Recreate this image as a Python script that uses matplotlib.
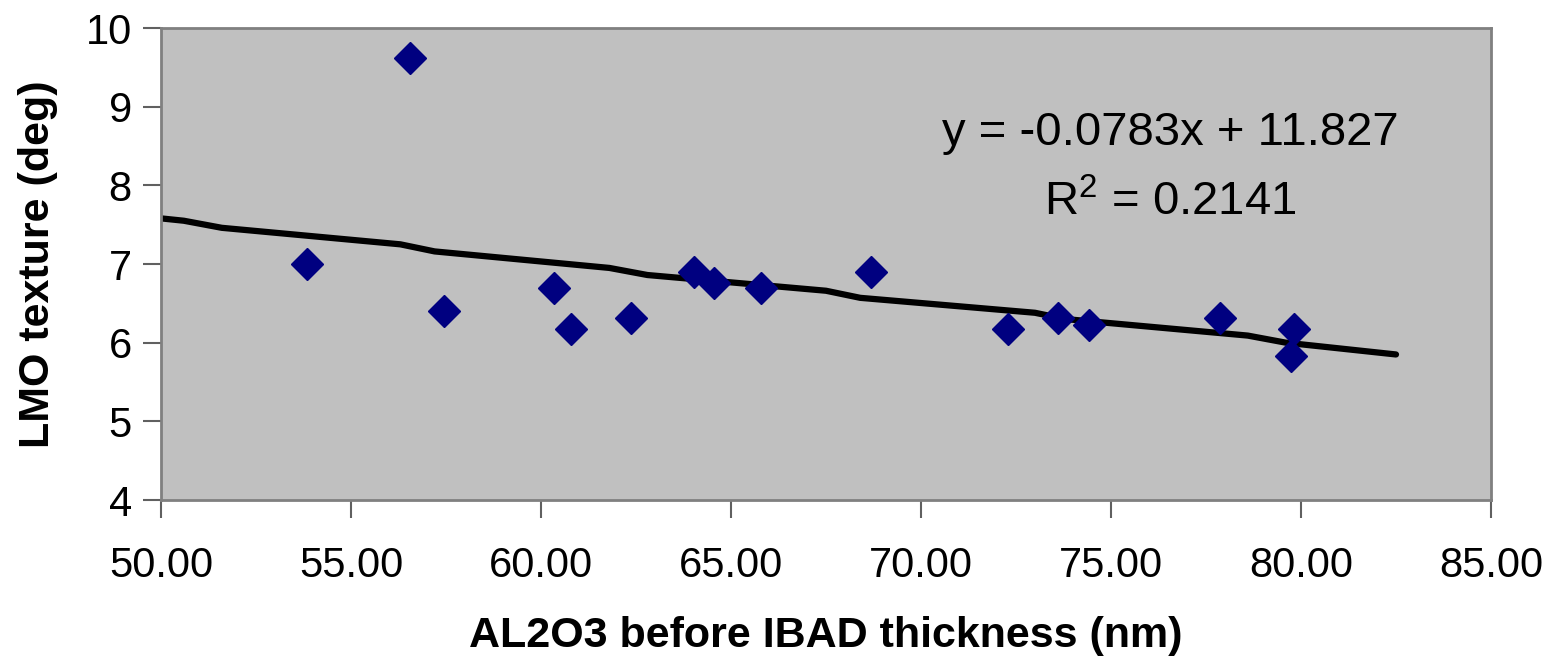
import matplotlib.pyplot as plt
import numpy as np

# AL2O3 thickness (nm) vs LMO texture (deg)
thickness = [53.84, 56.55, 57.45, 60.34, 60.79, 62.37, 64.03, 64.55, 65.79,
             68.68, 72.29, 73.60, 74.42, 77.87, 79.82, 79.74]
texture = [7.00, 9.62, 6.40, 6.69, 6.18, 6.31, 6.90, 6.76, 6.70,
           6.90, 6.18, 6.31, 6.22, 6.31, 6.18, 5.83]

# trend line as rendered (vertices)
trend_x = [50.0, 50.6, 51.6, 56.3, 57.2, 61.8, 62.8, 67.5, 68.4, 73.0, 73.8, 78.6, 79.6, 82.5]
trend_y = [7.58, 7.55, 7.46, 7.25, 7.16, 6.95, 6.86, 6.66, 6.57, 6.38, 6.30, 6.09, 6.00, 5.85]

eq_text = 'y = -0.0783x + 11.827'
r2_text = 'R$^2$ = 0.2141'

x_ticks = np.arange(50, 86, 5)
y_ticks = np.arange(4, 11, 1)

plt.rcParams['font.family'] = ['Liberation Sans', 'DejaVu Sans']
plt.rcParams['mathtext.fontset'] = 'custom'
plt.rcParams['mathtext.rm'] = 'Liberation Sans'

fig = plt.figure(figsize=(15.51, 6.64), dpi=100)
ax = fig.add_axes([161 / 1551, 1 - 500 / 664, (1491 - 161) / 1551, (500 - 28) / 664])
ax.set_facecolor('#C0C0C0')

ax.plot(trend_x, trend_y, color='black', linewidth=4.5, solid_capstyle='round', zorder=2)
ax.plot(thickness, texture, linestyle='none', marker='D', markersize=16,
        color='#000080', zorder=3)

ax.set_xlim(50, 85)
ax.set_ylim(4, 10)
ax.set_xticks(x_ticks)
ax.set_xticklabels([f'{v:.2f}' for v in x_ticks])
ax.set_yticks(y_ticks)

for s in ax.spines.values():
    s.set_color('#808080')
    s.set_linewidth(2)

ax.tick_params(axis='both', direction='out', length=13, width=1.5, color='#606060',
               labelsize=30, pad=8)
ax.tick_params(axis='x', pad=20)

ax.set_xlabel('AL2O3 before IBAD thickness (nm)', fontsize=31, fontweight='bold', labelpad=22)
ax.set_ylabel('LMO texture (deg)', fontsize=31, fontweight='bold', labelpad=20)

fig.text(1170 / 1551, 1 - 133 / 664, eq_text, fontsize=34, ha='center', va='center')
fig.text(1170 / 1551, 1 - 203 / 664, r2_text, fontsize=34, ha='center', va='center')

fig.savefig('out.png', dpi=100)
